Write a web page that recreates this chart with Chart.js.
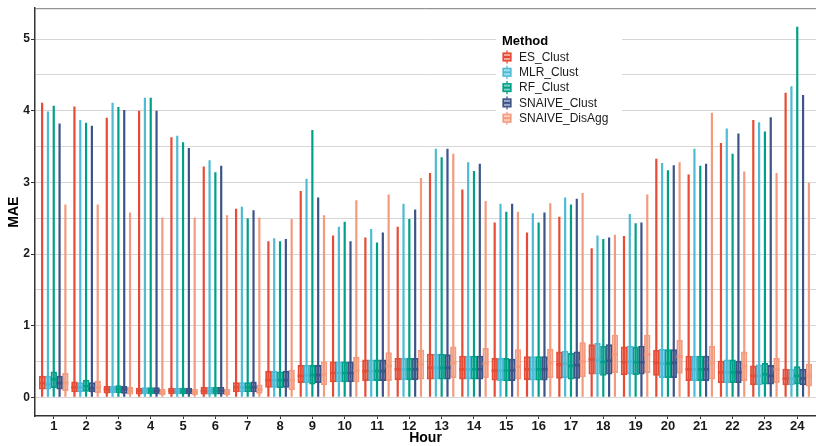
<!DOCTYPE html>
<html>
<head>
<meta charset="utf-8">
<script src="https://cdn.jsdelivr.net/npm/chart.js@4"></script>
<style>
  body { margin: 0; background: #fff; }
  #wrap { width: 816px; height: 446px; }
</style>
</head>
<body>
<div id="wrap"><canvas id="maeChart" width="816" height="446"></canvas></div>
<script>
// hours on the x axis, methods in legend order
const hours = [1, 2, 3, 4, 5, 6, 7, 8, 9, 10, 11, 12, 13, 14, 15, 16, 17, 18, 19, 20, 21, 22, 23, 24];
const methods = ['ES_Clust', 'MLR_Clust', 'RF_Clust', 'SNAIVE_Clust', 'SNAIVE_DisAgg'];
const colors = ['#E64B35', '#4DBBD5', '#00A087', '#3C5488', '#F39B7F'];
const yGridValues = [0, 0.5, 1, 1.5, 2, 2.5, 3, 3.5, 4, 4.5, 5];
const yTickLabels = ['0', '1', '2', '3', '4', '5'];
const whiskerLow = 0;

// upper whisker ends
const esMax = [4.11, 4.06, 3.90, 4.00, 3.63, 3.22, 2.63, 2.18, 2.88, 2.26, 2.23, 2.38, 3.13, 2.90, 2.44, 2.30, 2.52, 2.08, 2.25, 3.33, 3.11, 3.55, 3.87, 4.25];
const mlrMax = [3.99, 3.87, 4.11, 4.18, 3.65, 3.31, 2.66, 2.22, 3.05, 2.38, 2.35, 2.70, 3.47, 3.28, 2.70, 2.57, 2.79, 2.26, 2.56, 3.27, 3.47, 3.75, 3.84, 4.34];
const rfMax = [4.07, 3.83, 4.05, 4.18, 3.56, 3.14, 2.50, 2.18, 3.73, 2.45, 2.16, 2.49, 3.35, 3.16, 2.59, 2.44, 2.69, 2.21, 2.43, 3.17, 3.23, 3.40, 3.71, 5.17];
const snMax = [3.82, 3.79, 4.01, 4.00, 3.48, 3.23, 2.61, 2.21, 2.79, 2.18, 2.30, 2.62, 3.47, 3.26, 2.70, 2.58, 2.77, 2.23, 2.44, 3.24, 3.26, 3.68, 3.91, 4.22];
const sdMax = [2.69, 2.69, 2.58, 2.51, 2.51, 2.54, 2.51, 2.49, 2.54, 2.75, 2.83, 3.06, 3.40, 2.74, 2.59, 2.71, 2.85, 2.27, 2.83, 3.28, 3.97, 3.15, 3.13, 2.99];

// quartiles
const esQ1 = [0.11, 0.07, 0.055, 0.04, 0.045, 0.04, 0.07, 0.135, 0.20, 0.21, 0.23, 0.24, 0.25, 0.25, 0.235, 0.24, 0.26, 0.32, 0.31, 0.30, 0.23, 0.20, 0.17, 0.17];
const esMed = [0.20, 0.14, 0.11, 0.09, 0.09, 0.09, 0.14, 0.24, 0.30, 0.34, 0.365, 0.39, 0.41, 0.39, 0.375, 0.39, 0.46, 0.53, 0.49, 0.48, 0.39, 0.35, 0.30, 0.26];
const esQ3 = [0.30, 0.22, 0.16, 0.135, 0.135, 0.145, 0.21, 0.37, 0.45, 0.50, 0.53, 0.55, 0.61, 0.58, 0.55, 0.575, 0.64, 0.74, 0.71, 0.66, 0.58, 0.51, 0.445, 0.40];

const mlrQ1 = [0.11, 0.07, 0.06, 0.045, 0.045, 0.04, 0.07, 0.135, 0.20, 0.21, 0.23, 0.24, 0.25, 0.25, 0.23, 0.235, 0.27, 0.32, 0.32, 0.27, 0.23, 0.20, 0.17, 0.17];
const mlrMed = [0.18, 0.14, 0.11, 0.09, 0.09, 0.09, 0.14, 0.24, 0.31, 0.34, 0.365, 0.39, 0.41, 0.39, 0.375, 0.39, 0.47, 0.52, 0.50, 0.47, 0.39, 0.35, 0.30, 0.26];
const mlrQ3 = [0.30, 0.21, 0.16, 0.14, 0.135, 0.145, 0.21, 0.37, 0.45, 0.50, 0.53, 0.55, 0.61, 0.58, 0.55, 0.575, 0.65, 0.76, 0.72, 0.675, 0.58, 0.53, 0.46, 0.40];

const rfQ1 = [0.13, 0.08, 0.06, 0.045, 0.045, 0.04, 0.07, 0.13, 0.18, 0.21, 0.23, 0.24, 0.25, 0.25, 0.225, 0.235, 0.25, 0.30, 0.31, 0.27, 0.23, 0.20, 0.18, 0.18];
const rfMed = [0.25, 0.155, 0.12, 0.09, 0.09, 0.09, 0.14, 0.24, 0.31, 0.34, 0.365, 0.39, 0.41, 0.39, 0.375, 0.39, 0.44, 0.495, 0.49, 0.47, 0.39, 0.35, 0.32, 0.30];
const rfQ3 = [0.36, 0.245, 0.17, 0.14, 0.135, 0.145, 0.21, 0.36, 0.45, 0.50, 0.53, 0.55, 0.61, 0.58, 0.55, 0.575, 0.62, 0.72, 0.71, 0.67, 0.58, 0.53, 0.48, 0.435];

const snQ1 = [0.11, 0.07, 0.05, 0.045, 0.045, 0.04, 0.07, 0.135, 0.20, 0.21, 0.23, 0.24, 0.25, 0.25, 0.23, 0.235, 0.26, 0.32, 0.32, 0.27, 0.23, 0.20, 0.18, 0.17];
const snMed = [0.20, 0.13, 0.11, 0.09, 0.09, 0.09, 0.14, 0.24, 0.31, 0.34, 0.365, 0.39, 0.41, 0.39, 0.375, 0.39, 0.45, 0.51, 0.49, 0.48, 0.39, 0.35, 0.30, 0.265];
const snQ3 = [0.30, 0.21, 0.16, 0.14, 0.135, 0.145, 0.22, 0.37, 0.45, 0.50, 0.53, 0.55, 0.60, 0.58, 0.54, 0.575, 0.64, 0.74, 0.72, 0.67, 0.58, 0.51, 0.45, 0.40];

const sdQ1 = [0.09, 0.06, 0.04, 0.03, 0.03, 0.03, 0.05, 0.10, 0.17, 0.21, 0.23, 0.25, 0.27, 0.27, 0.25, 0.27, 0.28, 0.34, 0.34, 0.33, 0.25, 0.23, 0.20, 0.15];
const sdMed = [0.20, 0.14, 0.09, 0.07, 0.07, 0.07, 0.11, 0.24, 0.32, 0.375, 0.435, 0.46, 0.48, 0.47, 0.43, 0.48, 0.50, 0.60, 0.60, 0.57, 0.48, 0.435, 0.39, 0.30];
const sdQ3 = [0.34, 0.23, 0.145, 0.12, 0.12, 0.12, 0.18, 0.385, 0.50, 0.565, 0.63, 0.66, 0.71, 0.69, 0.67, 0.68, 0.77, 0.875, 0.875, 0.805, 0.72, 0.64, 0.55, 0.47];

const series = [
    { max: esMax, q1: esQ1, med: esMed, q3: esQ3 },
    { max: mlrMax, q1: mlrQ1, med: mlrMed, q3: mlrQ3 },
    { max: rfMax, q1: rfQ1, med: rfMed, q3: rfQ3 },
    { max: snMax, q1: snQ1, med: snMed, q3: snQ3 },
    { max: sdMax, q1: sdQ1, med: sdMed, q3: sdQ3 }
];

const FONT = '"Liberation Sans", Arial, Helvetica, sans-serif';

function fade(hex, a) {
    const n = parseInt(hex.slice(1), 16);
    return 'rgba(' + (n >> 16) + ',' + ((n >> 8) & 255) + ',' + (n & 255) + ',' + a + ')';
}

// each method is one "stack" so median, box and whisker share a dodge slot
const datasets = [];
series.forEach(function (s, i) {
    const c = colors[i];
    datasets.push({
        label: methods[i] + ' median', stack: methods[i], order: 0,
        data: hours.map((h, j) => ({ x: h, y: [s.med[j] - 0.019, s.med[j] + 0.019] })),
        backgroundColor: c, borderWidth: 0,
        categoryPercentage: 0.9, barPercentage: 1.05
    });
    datasets.push({
        label: methods[i], stack: methods[i], order: 1,
        data: hours.map((h, j) => ({ x: h, y: [s.q1[j], s.q3[j]] })),
        backgroundColor: fade(c, 0.45), borderColor: c, borderWidth: 1.8, borderSkipped: false,
        categoryPercentage: 0.9, barPercentage: 1.1
    });
    datasets.push({
        label: methods[i] + ' whisker', stack: methods[i], order: 2,
        data: hours.map((h, j) => ({ x: h, y: [whiskerLow, s.max[j]] })),
        backgroundColor: c, borderWidth: 0,
        categoryPercentage: 0.9, barPercentage: 1, maxBarThickness: 2.2
    });
});

const frame = {
    id: 'frame',
    afterDraw(chart) {
        const { ctx, chartArea: a } = chart;
        ctx.save();
        ctx.strokeStyle = '#7a7a7a';
        ctx.lineWidth = 1;
        ctx.beginPath();
        ctx.moveTo(a.left, a.top + 0.5);
        ctx.lineTo(a.right, a.top + 0.5);
        ctx.stroke();

        // legend, drawn inside the panel like the ggplot original
        ctx.fillStyle = '#fff';
        ctx.fillRect(496, 30, 126, 98);
        ctx.fillStyle = '#000';
        ctx.textBaseline = 'middle';
        ctx.font = 'bold 13px ' + FONT;
        ctx.fillText('Method', 502, 41);
        ctx.font = '12px ' + FONT;
        methods.forEach(function (m, i) {
            const y = 57 + i * 15.3;
            const c = colors[i];
            ctx.fillStyle = c;
            ctx.fillRect(506.3, y - 6.5, 1.4, 13);
            ctx.fillStyle = '#fff';
            ctx.fillRect(502.5, y - 4.5, 9, 9);
            ctx.fillStyle = fade(c, 0.5);
            ctx.fillRect(502.5, y - 4.5, 9, 9);
            ctx.strokeStyle = c;
            ctx.lineWidth = 1.5;
            ctx.strokeRect(503.25, y - 3.75, 7.5, 7.5);
            ctx.fillStyle = c;
            ctx.fillRect(503, y - 1, 8, 2);
            ctx.fillStyle = '#1a1a1a';
            ctx.fillText(m, 519, y + 0.5);
        });
        ctx.restore();
    }
};

const ctx = document.getElementById('maeChart').getContext('2d');
const maeChart = new Chart(ctx, {
    type: 'bar',
    data: { datasets: datasets },
    options: {
        responsive: false,
        animation: false,
        layout: { padding: { top: 7, right: 0, left: 0, bottom: 0 } },
        plugins: { legend: { display: false }, tooltip: { enabled: false } },
        scales: {
            x: {
                type: 'linear',
                min: 0.42,
                max: 24.58,
                offset: false,
                afterBuildTicks: s => { s.ticks = hours.map(v => ({ value: v })); },
                afterFit: s => { s.height = 30; },
                grid: { drawOnChartArea: false, offset: false, tickLength: 3, tickColor: '#333', tickWidth: 1 },
                border: { color: '#333', width: 1.5 },
                ticks: {
                    color: '#1a1a1a', padding: 0, maxRotation: 0, autoSkip: false,
                    font: { family: FONT, size: 13, weight: 'bold' },
                    callback: v => String(v)
                },
                title: {
                    display: true, text: 'Hour', color: '#000',
                    font: { family: FONT, size: 14, weight: 'bold' },
                    padding: { top: 0, bottom: -1 }
                }
            },
            y: {
                stacked: false,
                min: -0.26,
                max: 5.43,
                afterBuildTicks: s => { s.ticks = yGridValues.map(v => ({ value: v })); },
                afterFit: s => { s.width = 35; },
                grid: {
                    color: '#d6d6d6', lineWidth: 1, tickLength: 4,
                    tickColor: c => Number.isInteger(c.tick.value) ? '#333' : 'rgba(0,0,0,0)'
                },
                border: { color: '#333', width: 1.5 },
                ticks: {
                    color: '#1a1a1a', padding: 1, autoSkip: false,
                    font: { family: FONT, size: 12, weight: 'bold' },
                    callback: v => Number.isInteger(v) ? yTickLabels[v] : ''
                },
                title: {
                    display: true, text: 'MAE', color: '#000',
                    font: { family: FONT, size: 14, weight: 'bold' },
                    padding: { top: 6, bottom: 0 }
                }
            }
        }
    },
    plugins: [frame]
});
</script>
</body>
</html>
